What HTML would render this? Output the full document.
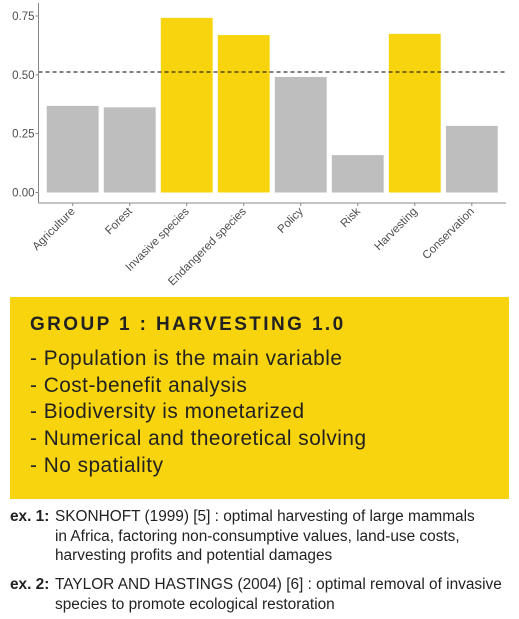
<!DOCTYPE html>
<html><head><meta charset="utf-8"><style>
body{margin:0;width:519px;height:619px;background:#fff;font-family:"Liberation Sans",sans-serif;position:relative;overflow:hidden}
#box{position:absolute;left:10px;top:297px;width:499px;height:202px;background:#F8D40E}
#title{position:absolute;left:20px;top:17px;font-weight:bold;font-size:19px;letter-spacing:2.4px;color:#222}
.b{position:absolute;left:20px;font-size:20.8px;letter-spacing:0.5px;color:#222}
.ex{position:absolute;left:10px;font-size:15.4px;line-height:19.5px;color:#222}
.ex b{position:absolute;left:0;top:0}
.ex span{display:block;margin-left:45px}
</style></head><body>
<svg id="chart" width="519" height="295" style="position:absolute;left:0;top:0" font-family="Liberation Sans, sans-serif"></svg>
<div id="box">
<div id="title">GROUP 1 : HARVESTING 1.0</div>
<div class="b" style="top:50px">- Population is the main variable</div>
<div class="b" style="top:77px">- Cost-benefit analysis</div>
<div class="b" style="top:103px">- Biodiversity is monetarized</div>
<div class="b" style="top:130px">- Numerical and theoretical solving</div>
<div class="b" style="top:157px">- No spatiality</div>
</div>
<div class="ex" style="top:507px"><b>ex. 1:</b><span>SKONHOFT (1999) [5] : optimal harvesting of large mammals<br>in Africa, factoring non-consumptive values, land-use costs,<br>harvesting profits and potential damages</span></div>
<div class="ex" style="top:575px"><b>ex. 2:</b><span>TAYLOR AND HASTINGS (2004) [6] : optimal removal of invasive<br>species to promote ecological restoration</span></div>
<script>
const categories=["Agriculture","Forest","Invasive species","Endangered species","Policy","Risk","Harvesting","Conservation"];
const values=[0.368,0.362,0.742,0.669,0.491,0.159,0.674,0.283];
const highlighted=[false,false,true,true,false,false,true,false];
const yTicks=[0,0.25,0.5,0.75];
const yTickLabels=["0.00","0.25","0.50","0.75"];
const threshold=0.512;
const svg=document.getElementById('chart');
const NS='http://www.w3.org/2000/svg';
const x0=38.5,x1=506,y0=192.5,yTop=16;
const y=v=>y0-(y0-yTop)*v/0.75;
const step=(x1-x0)/(categories.length-1+1.2);
const xc=i=>x0+step*(0.6+i);
const bw=step*0.91;
function mk(t,a){const e=document.createElementNS(NS,t);for(const k in a)e.setAttribute(k,a[k]);svg.appendChild(e);return e;}
values.forEach((v,i)=>{
 const r=mk('rect',{x:xc(i)-bw/2,y:y(v),width:bw,height:y0-y(v),fill:highlighted[i]?'#F8D40E':'#BEBEBE'});
 
 
});
const dl=mk('line',{x1:x0,x2:x1,y1:y(threshold),y2:y(threshold),stroke:'#000','stroke-width':1,'stroke-dasharray':'4,3'});


const ya=mk('line',{x1:x0,x2:x0,y1:3,y2:203,stroke:'#888','stroke-width':1});


const xa=mk('line',{x1:x0,x2:x1,y1:203,y2:203,stroke:'#888','stroke-width':1});


yTicks.forEach((v,i)=>{
 mk('line',{x1:x0-3,x2:x0,y1:y(v),y2:y(v),stroke:'#888'});
 const t=mk('text',{x:x0-4,y:y(v)+4,'text-anchor':'end','font-size':11.5,fill:'#4d4d4d'});
 t.textContent=yTickLabels[i];
 
 
});
categories.forEach((c,i)=>{
 mk('line',{x1:xc(i),x2:xc(i),y1:203,y2:206,stroke:'#888'});
 const t=mk('text',{x:xc(i)+3,y:212,'text-anchor':'end','font-size':11.5,fill:'#4d4d4d',transform:`rotate(-45 ${xc(i)+3} 212)`});
 t.textContent=c;
 
 
});
</script>
</body></html>
